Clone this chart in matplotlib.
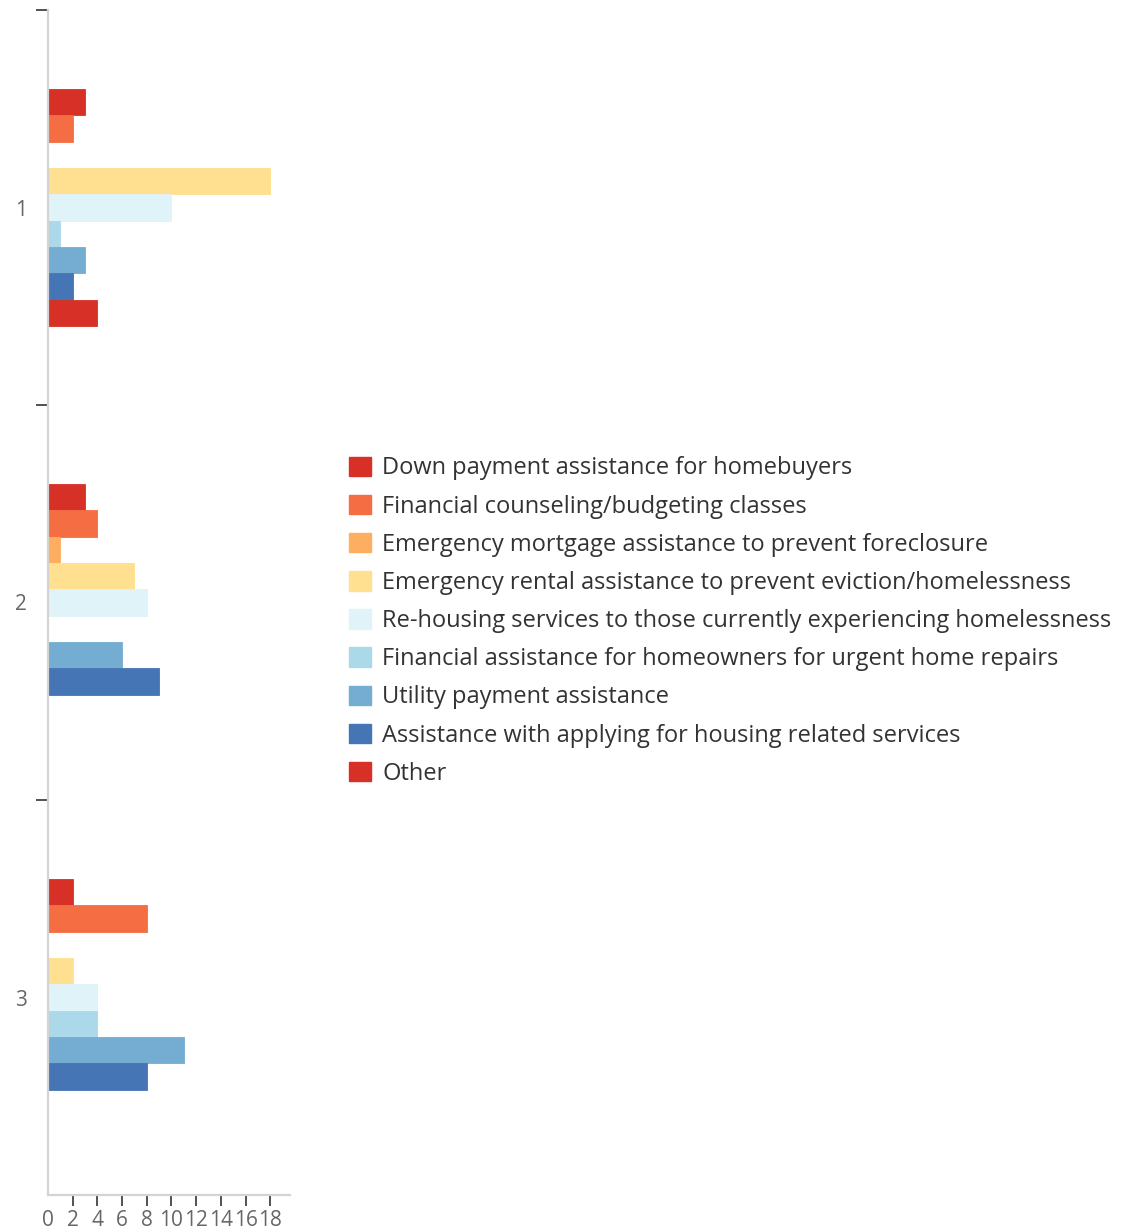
import matplotlib
matplotlib.use("Agg")
import matplotlib.pyplot as plt
import numpy as np
from matplotlib.patches import Patch

categories = ["1", "2", "3"]
series_names = [
    "Down payment assistance for homebuyers",
    "Financial counseling/budgeting classes",
    "Emergency mortgage assistance to prevent foreclosure",
    "Emergency rental assistance to prevent eviction/homelessness",
    "Re-housing services to those currently experiencing homelessness",
    "Financial assistance for homeowners for urgent home repairs",
    "Utility payment assistance",
    "Assistance with applying for housing related services",
    "Other",
]
down_payment = [3, 3, 2]
financial_counseling = [2, 4, 8]
emergency_mortgage = [0, 1, 0]
emergency_rental = [18, 7, 2]
re_housing = [10, 8, 4]
home_repairs = [1, 0, 4]
utility = [3, 6, 11]
applying = [2, 9, 8]
other = [4, 0, 0]
series_values = [down_payment, financial_counseling, emergency_mortgage, emergency_rental,
                 re_housing, home_repairs, utility, applying, other]
colors = ["#d73027", "#f46d43", "#fdae61", "#fee090", "#e0f3f8",
          "#abd9e9", "#74add1", "#4575b4", "#d73027"]
x_ticks = [2, 4, 6, 8, 10, 12, 14, 16, 18]

plt.rcParams['font.family'] = ['Open Sans', 'DejaVu Sans']

W, H = 1128, 1232
fig = plt.figure(figsize=(W / 100, H / 100), dpi=100)
ax = fig.add_axes([48 / W, (H - 1195) / H, (290 - 48) / W, (1195 - 10) / H])

n = len(series_names)
group_frac = 0.6
bh = group_frac / n
y0 = np.arange(len(categories))
for i, (name, vals, c) in enumerate(zip(series_names, series_values, colors)):
    ax.barh(y0 + (i - (n - 1) / 2) * bh, vals, height=bh, color=c,
            edgecolor=c, linewidth=0.6, label=name)

ax.set_ylim(len(categories) - 0.5, -0.5)
ax.set_xlim(0, 19.6)

ax.spines['top'].set_visible(False)
ax.spines['right'].set_visible(False)
for s in ('left', 'bottom'):
    ax.spines[s].set_color('#d3d3d3')
    ax.spines[s].set_linewidth(1.6)

ax.set_yticks(np.arange(len(categories)) - 0.5)
ax.set_yticklabels([])
ax.set_yticks(y0, minor=True)
ax.set_yticklabels(categories, minor=True)
ax.tick_params(axis='y', which='major', length=9, width=1.2, color='#333333')
ax.tick_params(axis='y', which='minor', length=0, pad=15, labelsize=15, labelcolor='#666666')

ax.set_xticks(x_ticks)
ax.set_xticks([0], minor=True)
ax.set_xticklabels([str(v) for v in x_ticks])
ax.set_xticklabels(['0'], minor=True)
ax.tick_params(axis='x', which='major', length=8, width=1.2, color='#333333', pad=3,
               labelsize=15, labelcolor='#666666')
ax.tick_params(axis='x', which='minor', length=0, pad=11, labelsize=15, labelcolor='#666666')

handles = [Patch(facecolor=c, edgecolor=c) for c in colors]
leg = fig.legend(handles, series_names, loc='upper left',
                 bbox_to_anchor=(340 / W, 1 - 447 / H), frameon=False,
                 fontsize=17, handlelength=0.9, handleheight=0.9,
                 handletextpad=0.5, labelspacing=0.6, borderaxespad=0)
for t in leg.get_texts():
    t.set_color('#333333')

fig.savefig('out.png', dpi=100)
